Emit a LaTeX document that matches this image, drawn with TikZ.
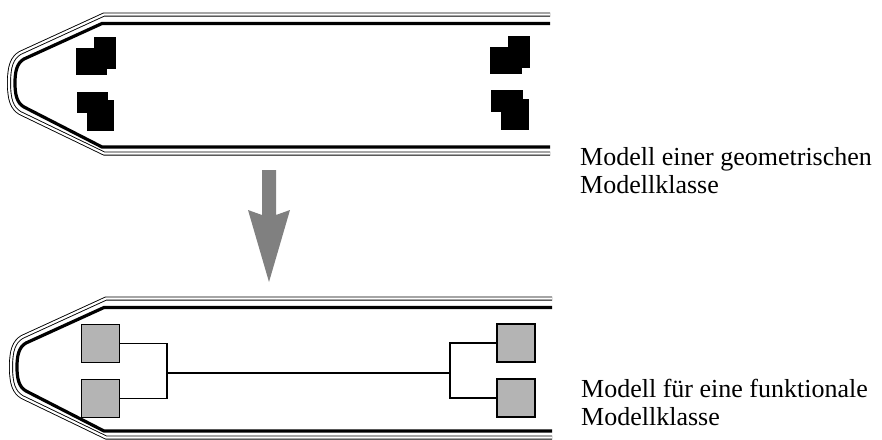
\documentclass[tikz,border=0pt]{standalone}
\usepackage{fontspec}
\setmainfont{Liberation Serif}
\usepackage{tikz}
\usetikzlibrary{positioning}

\definecolor{wheelgray}{RGB}{180,180,180}
\definecolor{arrowgray}{RGB}{128,128,128}

\tikzset{
  hull/.style={line width=0.9pt, double, double distance=2.2pt},
  rim/.style={line width=3.2pt},
  wheel/.style={draw, fill=wheelgray, line width=1.2pt, minimum size=38pt, inner sep=0pt},
  link/.style={line width=1.1pt},
  caption/.style={font=\fontsize{26}{27.5}\selectfont, inner sep=0pt, align=left}
}

% outline of one vehicle body, nose to the left
\newcommand{\drawbody}{%
  \draw[hull] (550,14.5) -- (104,14.5) -- (20,53)
    .. controls (12,58) and (9,66) .. (9,83)
    .. controls (9,100) and (12,108) .. (20,113)
    -- (104,153.5) -- (550,153.5);
  \draw[rim] (550,23.5) -- (102,23.5) -- (24,59)
    .. controls (17,63) and (15,71) .. (15,83)
    .. controls (15,95) and (17,103) .. (24,107)
    -- (102,147) -- (550,147);
}

\begin{document}
\begin{tikzpicture}[x=1pt,y=-1pt]
  \useasboundingbox (0,0) rectangle (882,439);

  % upper body with the geometric wheel sets
  \drawbody
  \fill (76,48) rectangle (107,75);
  \fill (94,37) rectangle (116,69);
  \fill (77,92) rectangle (108,113);
  \fill (87,100) rectangle (114,131);
  \fill (490,47) rectangle (522,74);
  \fill (508,36) rectangle (530,68);
  \fill (491,90) rectangle (523,112);
  \fill (501,99) rectangle (529,130);

  % transformation arrow
  \fill[arrowgray] (262,170) -- (276,170) -- (276,215) -- (290,210)
    -- (269,282) -- (248,210) -- (262,215) -- cycle;

  % lower body with the functional wheel sets
  \begin{scope}[shift={(2,284)}]
    \drawbody
  \end{scope}
  \node[wheel] (lu) at (100.5,343.5) {};
  \node[wheel] (ll) at (100.5,398.5) {};
  \node[wheel] (ru) at (516,343) {};
  \node[wheel] (rl) at (516,398) {};
  \coordinate (jl) at (167,373);
  \coordinate (jr) at (450,373);
  \draw[link] (lu.east) -| (jl);
  \draw[link] (ll.east) -| (jl);
  \draw[link] (jl) -- (jr);
  \draw[link] (ru.west) -| (jr);
  \draw[link] (rl.west) -| (jr);

  % captions (base sits on the last line)
  \node[caption, anchor=base west] (geo) at (580,193) {Modell einer geometrischen\\Modellklasse};
  \node[caption, anchor=base west] (fun) at (581,425) {Modell für eine funktionale\\Modellklasse};
\end{tikzpicture}
\end{document}
